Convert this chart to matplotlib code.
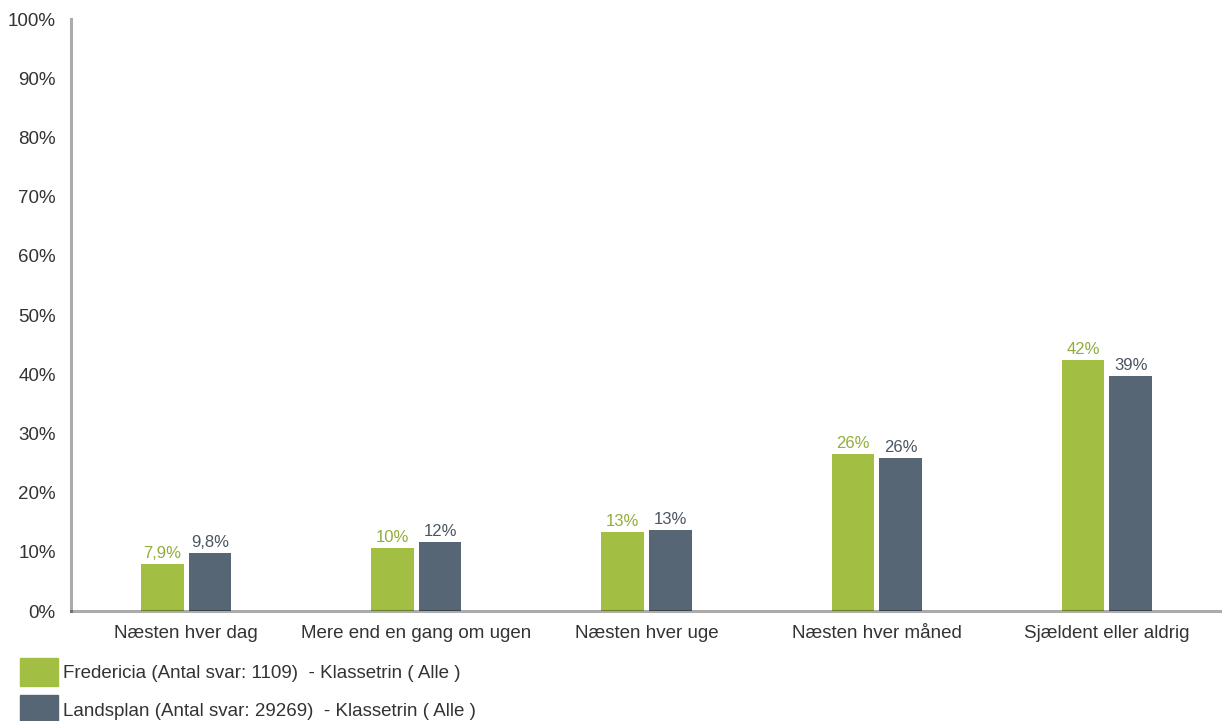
import numpy as np
import matplotlib.pyplot as plt
from matplotlib.patches import Patch

plt.rcParams['font.family'] = ['Liberation Sans', 'DejaVu Sans']

categories = ['Næsten hver dag', 'Mere end en gang om ugen', 'Næsten hver uge',
              'Næsten hver måned', 'Sjældent eller aldrig']
fredericia = [7.9, 10.6, 13.3, 26.5, 42.4]
landsplan = [9.8, 11.7, 13.7, 25.8, 39.7]
fred_labels = ['7,9%', '10%', '13%', '26%', '42%']
land_labels = ['9,8%', '12%', '13%', '26%', '39%']
series_names = ['Fredericia (Antal svar: 1109)  - Klassetrin ( Alle )',
                'Landsplan (Antal svar: 29269)  - Klassetrin ( Alle )']

green = '#a2bf44'
grey = '#566675'

fig = plt.figure(figsize=(12.22, 7.21), dpi=100)
ax = fig.add_axes([71/1222, 1-611/721, 1151/1222, 592/721])

x = np.arange(len(categories))
w = 0.185
gap = 0.022
b1 = ax.bar(x - w/2 - gap/2, fredericia, w, color=green, zorder=2)
b2 = ax.bar(x + w/2 + gap/2, landsplan, w, color=grey, zorder=2)

for r, s in zip(b1, fred_labels):
    ax.annotate(s, (r.get_x() + r.get_width()/2, r.get_height()), xytext=(0, 2),
                textcoords='offset points', ha='center', va='bottom',
                fontsize=12, color='#8fae3a')
for r, s in zip(b2, land_labels):
    ax.annotate(s, (r.get_x() + r.get_width()/2, r.get_height()), xytext=(0, 2),
                textcoords='offset points', ha='center', va='bottom',
                fontsize=12, color='#4a5562')

ax.set_xlim(-0.5, 4.5)
ax.set_ylim(0, 100)
ax.set_yticks(np.arange(0, 101, 10))
ax.set_yticklabels([f'{v}%' for v in range(0, 101, 10)])
ax.set_xticks(x)
ax.set_xticklabels(categories)
ax.tick_params(length=0, labelsize=13.5, colors='#333333')
ax.tick_params(axis='y', pad=11)
ax.tick_params(axis='x', pad=19.5)
for lbl in ax.get_xticklabels():
    lbl.set_va('baseline')

for s in ['top', 'right']:
    ax.spines[s].set_visible(False)
for s in ['left', 'bottom']:
    ax.spines[s].set_color((0, 0, 0, 0.33))
    ax.spines[s].set_linewidth(2.2)
    ax.spines[s].set_zorder(3)

handles = [Patch(color=green), Patch(color=grey)]
fig.legend(handles, series_names, loc='upper left', bbox_to_anchor=(20/1222, 1-658/721),
           frameon=False, fontsize=13.5, handlelength=2.03, handleheight=1.95,
           handletextpad=0.27, labelspacing=0.48, borderpad=0, borderaxespad=0,
           labelcolor='#333333')

fig.savefig('out.png', dpi=100)
